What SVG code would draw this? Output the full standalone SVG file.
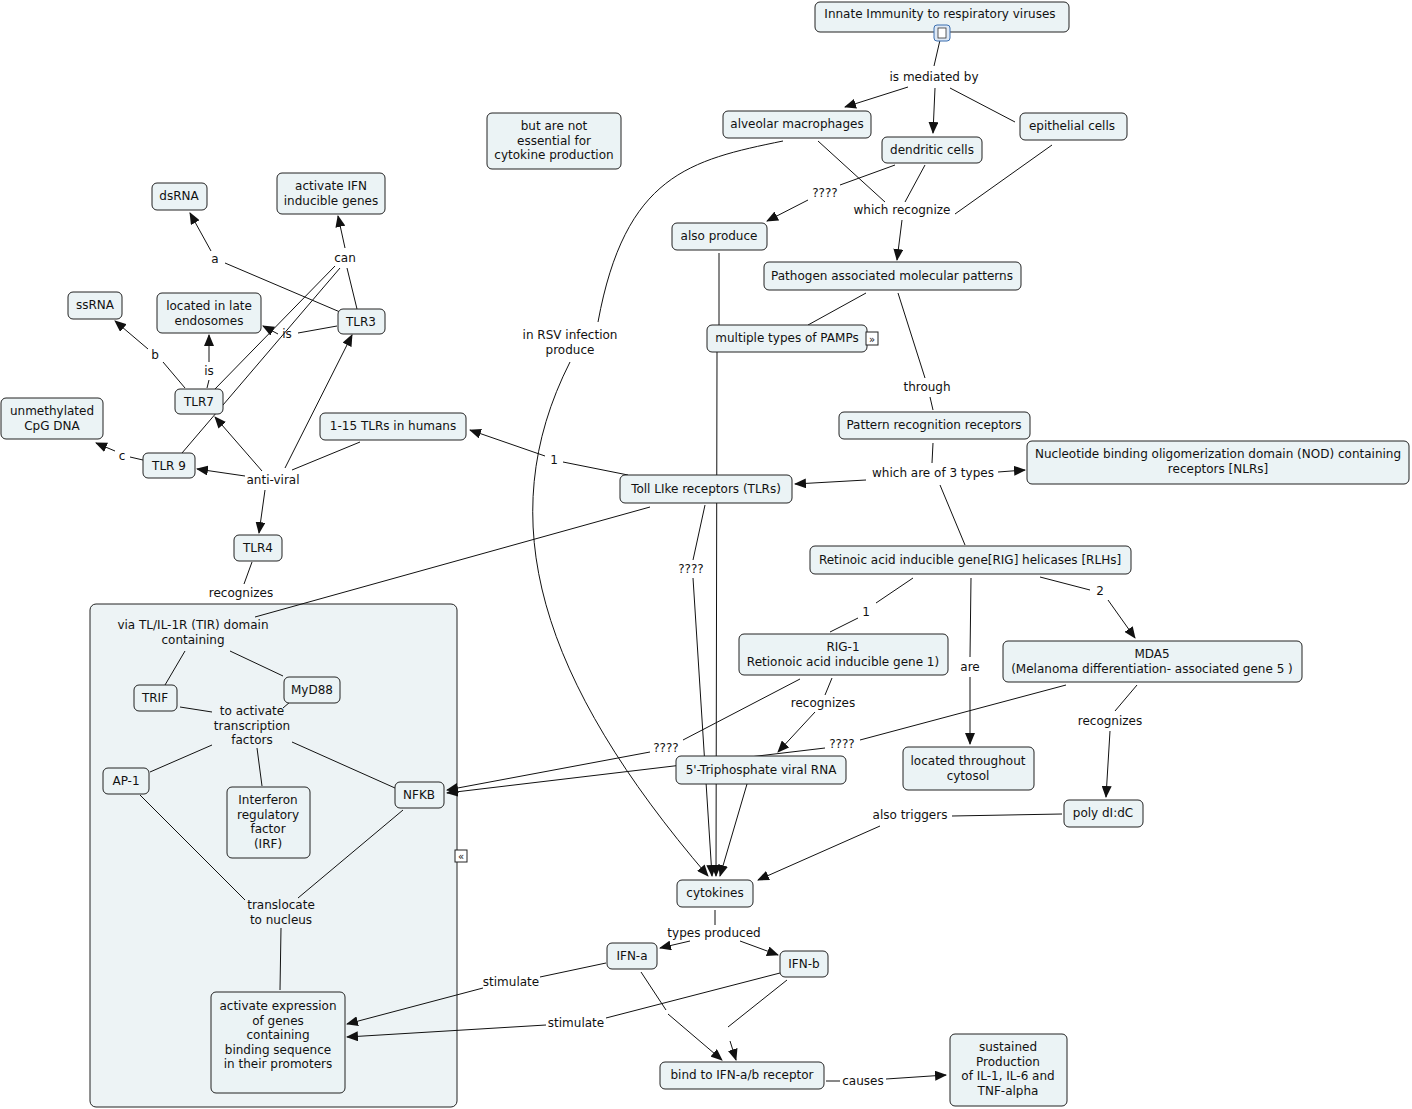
<svg xmlns="http://www.w3.org/2000/svg" width="1412" height="1109" viewBox="0 0 1412 1109">
<style>
.n{fill:#ebf3f5;stroke:#222;stroke-width:1;}
text{font-family:"DejaVu Sans",Verdana,sans-serif;font-size:12px;fill:#111;text-anchor:middle;}
.c path,.c line{stroke:#111;stroke-width:1;fill:none;}
.a{marker-end:url(#ah);}
</style>
<defs><marker id="ah" markerWidth="12" markerHeight="10" refX="11" refY="5" orient="auto" markerUnits="userSpaceOnUse"><path d="M0,0 L12,5 L0,10 z" fill="#111"/></marker></defs>
<rect x="0" y="0" width="1412" height="1109" fill="#fff"/>
<g id="group"><rect x="90" y="604" width="367" height="503" rx="6" fill="#edf3f5" stroke="#222"/>
<rect x="455" y="850" width="12" height="12" fill="#fff" stroke="#222"/><text x="461" y="860" style="font-size:10px">«</text></g>
<g class="c">
<line x1="940" y1="40" x2="934" y2="66"/>
<line class="a" x1="908" y1="87" x2="845" y2="107"/>
<line class="a" x1="935" y1="88" x2="933" y2="133"/>
<line x1="950" y1="88" x2="1015" y2="122"/>
<line x1="818" y1="141" x2="885" y2="202"/>
<line x1="925" y1="165" x2="905" y2="202"/>
<line x1="1052" y1="145" x2="955" y2="214"/>
<line class="a" x1="902" y1="220" x2="897" y2="260"/>
<line x1="895" y1="165" x2="840" y2="185"/>
<line class="a" x1="808" y1="200" x2="767" y2="221"/>
<line x1="719" y1="253" x2="719" y2="325"/>
<line class="a" x1="717" y1="352" x2="716" y2="876"/>
<line x1="866" y1="293" x2="808" y2="325"/>
<line x1="898" y1="293" x2="925" y2="378"/>
<line x1="930" y1="397" x2="933" y2="410"/>
<path d="M783,141 C690,160 625,175 598,322"/>
<path class="a" d="M570,362 C490,520 540,680 708,876"/>
<line x1="933" y1="443" x2="932" y2="463"/>
<line class="a" x1="866" y1="480" x2="795" y2="484"/>
<line class="a" x1="998" y1="472" x2="1025" y2="470"/>
<line x1="940" y1="485" x2="965" y2="545"/>
<line x1="628" y1="475" x2="563" y2="462"/>
<line class="a" x1="545" y1="456" x2="470" y2="430"/>
<line x1="705" y1="505" x2="693" y2="560"/>
<line class="a" x1="693" y1="578" x2="712" y2="876"/>
<line x1="650" y1="507" x2="255" y2="617"/>
<line x1="913" y1="578" x2="876" y2="603"/>
<line x1="858" y1="618" x2="830" y2="632"/>
<line x1="1040" y1="577" x2="1090" y2="590"/>
<line class="a" x1="1108" y1="600" x2="1135" y2="638"/>
<line x1="971" y1="578" x2="970" y2="657"/>
<line class="a" x1="970" y1="677" x2="970" y2="744"/>
<line x1="832" y1="678" x2="825" y2="695"/>
<line class="a" x1="815" y1="712" x2="778" y2="752"/>
<line x1="800" y1="679" x2="683" y2="740"/>
<line class="a" x1="650" y1="752" x2="447" y2="790"/>
<line x1="1066" y1="685" x2="860" y2="740"/>
<line class="a" x1="825" y1="748" x2="447" y2="793"/>
<line x1="1137" y1="685" x2="1115" y2="711"/>
<line class="a" x1="1110" y1="731" x2="1106" y2="797"/>
<line class="a" x1="747" y1="784" x2="720" y2="876"/>
<line x1="1062" y1="814" x2="952" y2="816"/>
<line class="a" x1="880" y1="826" x2="758" y2="880"/>
<line x1="715" y1="910" x2="715" y2="925"/>
<line class="a" x1="690" y1="941" x2="660" y2="948"/>
<line class="a" x1="740" y1="941" x2="778" y2="955"/>
<line x1="606" y1="963" x2="540" y2="977"/>
<line class="a" x1="483" y1="988" x2="347" y2="1024"/>
<line x1="780" y1="973" x2="606" y2="1018"/>
<line class="a" x1="546" y1="1025" x2="347" y2="1037"/>
<line x1="641" y1="972" x2="666" y2="1010"/>
<line class="a" x1="668" y1="1014" x2="722" y2="1060"/>
<line x1="787" y1="980" x2="728" y2="1027"/>
<line class="a" x1="730" y1="1041" x2="736" y2="1060"/>
<line x1="826" y1="1081" x2="840" y2="1081"/>
<line class="a" x1="886" y1="1079" x2="946" y2="1075"/>
<line x1="357" y1="309" x2="347" y2="268"/>
<line class="a" x1="345" y1="248" x2="338" y2="216"/>
<line x1="340" y1="312" x2="225" y2="263"/>
<line class="a" x1="211" y1="251" x2="190" y2="213"/>
<line x1="337" y1="326" x2="298" y2="333"/>
<line class="a" x1="278" y1="334" x2="263" y2="326"/>
<line x1="215" y1="389" x2="335" y2="266"/>
<line x1="182" y1="453" x2="340" y2="268"/>
<line x1="185" y1="388" x2="163" y2="362"/>
<line class="a" x1="148" y1="349" x2="115" y2="321"/>
<line x1="207" y1="388" x2="209" y2="380"/>
<line class="a" x1="209" y1="362" x2="209" y2="335"/>
<line x1="143" y1="460" x2="130" y2="457"/>
<line class="a" x1="115" y1="451" x2="96" y2="443"/>
<line class="a" x1="262" y1="471" x2="215" y2="417"/>
<line class="a" x1="245" y1="476" x2="197" y2="469"/>
<line class="a" x1="265" y1="490" x2="259" y2="533"/>
<line class="a" x1="285" y1="468" x2="352" y2="335"/>
<line x1="292" y1="470" x2="360" y2="442"/>
<line x1="252" y1="562" x2="244" y2="584"/>
<line x1="185" y1="651" x2="165" y2="685"/>
<line x1="230" y1="651" x2="283" y2="676"/>
<line x1="180" y1="707" x2="212" y2="712"/>
<line x1="290" y1="702" x2="283" y2="708"/>
<line x1="212" y1="745" x2="150" y2="772"/>
<line x1="257" y1="748" x2="262" y2="786"/>
<line x1="292" y1="742" x2="395" y2="788"/>
<line x1="140" y1="795" x2="245" y2="900"/>
<line x1="403" y1="810" x2="298" y2="898"/>
<line x1="281" y1="928" x2="280" y2="990"/>
</g>
<g id="labels">
<text x="934" y="81">is mediated by</text>
<text x="825" y="197">????</text>
<text x="902" y="214">which recognize</text>
<text x="927" y="391">through</text>
<text x="933" y="477">which are of 3 types</text>
<text x="554" y="464">1</text>
<text x="570" y="339">in RSV infection</text><text x="570" y="354">produce</text>
<text x="691" y="573">????</text>
<text x="866" y="616">1</text>
<text x="1100" y="595">2</text>
<text x="970" y="671">are</text>
<text x="823" y="707">recognizes</text>
<text x="1110" y="725">recognizes</text>
<text x="666" y="752">????</text>
<text x="842" y="748">????</text>
<text x="910" y="819">also triggers</text>
<text x="714" y="937">types produced</text>
<text x="511" y="986">stimulate</text>
<text x="576" y="1027">stimulate</text>
<text x="863" y="1085">causes</text>
<text x="215" y="263">a</text>
<text x="345" y="262">can</text>
<text x="287" y="338">is</text>
<text x="155" y="359">b</text>
<text x="209" y="375">is</text>
<text x="122" y="460">c</text>
<text x="273" y="484">anti-viral</text>
<text x="241" y="597">recognizes</text>
<text x="193" y="629">via TL/IL-1R (TIR) domain</text><text x="193" y="644">containing</text>
<text x="252" y="715">to activate</text><text x="252" y="730">transcription</text><text x="252" y="744">factors</text>
<text x="281" y="909">translocate</text><text x="281" y="924">to nucleus</text>
</g>
<g id="n1"><rect class="n" x="815" y="2" width="254" height="30" rx="5"/><text x="940" y="18">Innate Immunity to respiratory viruses</text>
<rect x="934" y="25" width="16" height="16" rx="3" fill="#dde8f5" stroke="#3a6fb0"/><rect x="938" y="28" width="8" height="10" fill="#fff" stroke="#333" stroke-width="0.8"/></g>
<g id="n2"><rect class="n" x="723" y="111" width="148" height="27" rx="5"/><text x="797" y="128">alveolar macrophages</text></g>
<g id="n3"><rect class="n" x="882" y="137" width="100" height="26" rx="5"/><text x="932" y="154">dendritic cells</text></g>
<g id="n4"><rect class="n" x="1020" y="113" width="107" height="27" rx="5"/><text x="1072" y="130">epithelial cells</text></g>
<g id="n5"><rect class="n" x="487" y="113" width="134" height="56" rx="5"/><text x="554" y="130">but are not</text><text x="554" y="145">essential for</text><text x="554" y="159">cytokine production</text></g>
<g id="n6"><rect class="n" x="672" y="223" width="95" height="27" rx="5"/><text x="719" y="240">also produce</text></g>
<g id="n7"><rect class="n" x="764" y="262" width="257" height="28" rx="5"/><text x="892" y="280">Pathogen associated molecular patterns</text></g>
<g id="n8"><rect class="n" x="707" y="325" width="160" height="27" rx="5"/><text x="787" y="342">multiple types of PAMPs</text>
<rect x="866" y="332" width="12" height="13" fill="#fff" stroke="#222"/><text x="872" y="343" style="font-size:10px">»</text></g>
<g id="n9"><rect class="n" x="839" y="412" width="191" height="27" rx="5"/><text x="934" y="429">Pattern recognition receptors</text></g>
<g id="n10"><rect class="n" x="1027" y="441" width="382" height="43" rx="5"/><text x="1218" y="458">Nucleotide binding oligomerization domain (NOD) containing</text><text x="1218" y="473">receptors [NLRs]</text></g>
<g id="n11"><rect class="n" x="620" y="475" width="172" height="28" rx="5"/><text x="706" y="493">Toll LIke receptors (TLRs)</text></g>
<g id="n12"><rect class="n" x="320" y="413" width="146" height="27" rx="5"/><text x="393" y="430">1-15 TLRs in humans</text></g>
<g id="n13"><rect class="n" x="810" y="546" width="321" height="28" rx="5"/><text x="970" y="564">Retinoic acid inducible gene[RIG] helicases [RLHs]</text></g>
<g id="n14"><rect class="n" x="739" y="634" width="209" height="41" rx="5"/><text x="843" y="651">RIG-1</text><text x="843" y="666">Retionoic acid inducible gene 1)</text></g>
<g id="n15"><rect class="n" x="1003" y="641" width="299" height="41" rx="5"/><text x="1152" y="658">MDA5</text><text x="1152" y="673">(Melanoma differentiation- associated gene 5 )</text></g>
<g id="n16"><rect class="n" x="903" y="747" width="131" height="43" rx="5"/><text x="968" y="765">located throughout</text><text x="968" y="780">cytosol</text></g>
<g id="n17"><rect class="n" x="676" y="756" width="170" height="28" rx="5"/><text x="761" y="774">5'-Triphosphate viral RNA</text></g>
<g id="n18"><rect class="n" x="1064" y="800" width="79" height="27" rx="5"/><text x="1103" y="817">poly dI:dC</text></g>
<g id="n19"><rect class="n" x="677" y="880" width="76" height="27" rx="5"/><text x="715" y="897">cytokines</text></g>
<g id="n20"><rect class="n" x="607" y="943" width="50" height="26" rx="5"/><text x="632" y="960">IFN-a</text></g>
<g id="n21"><rect class="n" x="780" y="951" width="48" height="26" rx="5"/><text x="804" y="968">IFN-b</text></g>
<g id="n22"><rect class="n" x="660" y="1062" width="164" height="27" rx="5"/><text x="742" y="1079">bind to IFN-a/b receptor</text></g>
<g id="n23"><rect class="n" x="950" y="1034" width="117" height="72" rx="5"/><text x="1008" y="1051">sustained</text><text x="1008" y="1066">Production</text><text x="1008" y="1080">of IL-1, IL-6 and</text><text x="1008" y="1095">TNF-alpha</text></g>
<g id="n24"><rect class="n" x="152" y="183" width="55" height="27" rx="5"/><text x="179" y="200">dsRNA</text></g>
<g id="n25"><rect class="n" x="277" y="173" width="108" height="41" rx="5"/><text x="331" y="190">activate IFN</text><text x="331" y="205">inducible genes</text></g>
<g id="n26"><rect class="n" x="68" y="292" width="54" height="27" rx="5"/><text x="95" y="309">ssRNA</text></g>
<g id="n27"><rect class="n" x="157" y="293" width="104" height="40" rx="5"/><text x="209" y="310">located in late</text><text x="209" y="325">endosomes</text></g>
<g id="n28"><rect class="n" x="338" y="309" width="47" height="25" rx="5"/><text x="361" y="326">TLR3</text></g>
<g id="n29"><rect class="n" x="175" y="389" width="48" height="25" rx="5"/><text x="199" y="406">TLR7</text></g>
<g id="n30"><rect class="n" x="1" y="398" width="102" height="41" rx="5"/><text x="52" y="415">unmethylated</text><text x="52" y="430">CpG DNA</text></g>
<g id="n31"><rect class="n" x="143" y="453" width="52" height="25" rx="5"/><text x="169" y="470">TLR 9</text></g>
<g id="n32"><rect class="n" x="234" y="535" width="48" height="26" rx="5"/><text x="258" y="552">TLR4</text></g>
<g id="n33"><rect class="n" x="134" y="685" width="43" height="26" rx="5"/><text x="155" y="702">TRIF</text></g>
<g id="n34"><rect class="n" x="284" y="677" width="56" height="26" rx="5"/><text x="312" y="694">MyD88</text></g>
<g id="n35"><rect class="n" x="103" y="768" width="46" height="26" rx="5"/><text x="126" y="785">AP-1</text></g>
<g id="n36"><rect class="n" x="227" y="787" width="83" height="71" rx="5"/><text x="268" y="804">Interferon</text><text x="268" y="819">regulatory</text><text x="268" y="833">factor</text><text x="268" y="848">(IRF)</text></g>
<g id="n37"><rect class="n" x="395" y="782" width="49" height="26" rx="5"/><text x="419" y="799">NFKB</text></g>
<g id="n38"><rect class="n" x="211" y="992" width="134" height="101" rx="5"/><text x="278" y="1010">activate expression</text><text x="278" y="1025">of genes</text><text x="278" y="1039">containing</text><text x="278" y="1054">binding sequence</text><text x="278" y="1068">in their promoters</text></g>
</svg>
